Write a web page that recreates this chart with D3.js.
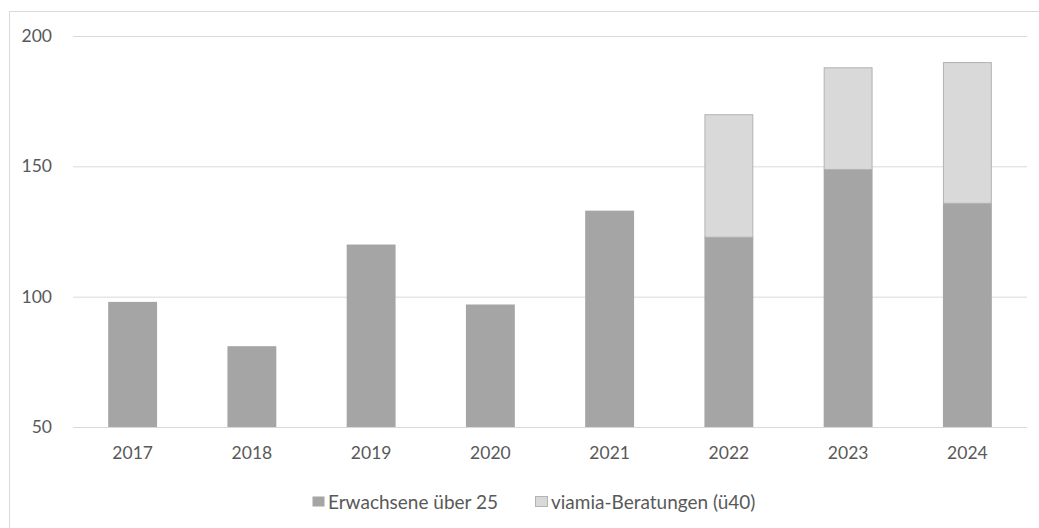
<!DOCTYPE html>
<html>
<head>
<meta charset="utf-8">
<script src="https://cdn.jsdelivr.net/npm/d3@7"></script>
<style>
  body { margin: 0; background: #fff; }
  text { font-family: Lato, "Noto Sans", sans-serif; fill: #595959; }
</style>
</head>
<body>
<div id="chart"></div>
<script>
// data
var years = ["2017", "2018", "2019", "2020", "2021", "2022", "2023", "2024"];
var adults = [98, 81, 120, 97, 133, 123, 149, 136];      // Erwachsene über 25
var viamia = [0, 0, 0, 0, 0, 47, 39, 54];                 // viamia-Beratungen (ü40)
var yTicks = [50, 100, 150, 200];
var seriesNames = ["Erwachsene über 25", "viamia-Beratungen (ü40)"];
var seriesColors = ["#a5a5a5", "#d9d9d9"];

var W = 1039, H = 528;
var svg = d3.select("#chart").append("svg")
  .attr("width", W).attr("height", H);

// outer chart frame (runs off the right/bottom of the crop)
svg.append("rect")
  .attr("x", 9.5).attr("y", 11.5)
  .attr("width", 1100).attr("height", 600)
  .attr("fill", "none").attr("stroke", "#d9d9d9");

var left = 73, right = 1027;
var x = d3.scaleBand().domain(years).range([left, right])
  .paddingInner(0.59).paddingOuter(0.295);
var y = d3.scaleLinear().domain([50, 200]).range([427, 36]);

// grid lines
var yAxis = d3.axisLeft(y).tickValues(yTicks).tickSize(-(right - left)).tickPadding(21);
var yG = svg.append("g").attr("transform", "translate(" + left + ",0)").call(yAxis);
yG.select(".domain").remove();
yG.selectAll(".tick line").attr("stroke", "#d9d9d9").attr("stroke-width", 1);
yG.selectAll(".tick text")
  .style("font-family", "Lato, sans-serif").style("font-size", "17.5px").attr("fill", "#595959");

var rows = years.map(function(d, i) { return { year: d, a: adults[i], v: viamia[i] }; });

// bottom series
svg.append("g").selectAll("rect")
  .data(rows).enter().append("rect")
  .attr("x", d => x(d.year))
  .attr("width", x.bandwidth())
  .attr("y", d => y(d.a))
  .attr("height", d => y(50) - y(d.a))
  .attr("fill", seriesColors[0]);

// stacked series
svg.append("g").selectAll("rect")
  .data(rows.filter(d => d.v > 0)).enter().append("rect")
  .attr("x", d => x(d.year) + 0.5)
  .attr("width", x.bandwidth() - 1)
  .attr("y", d => y(d.a + d.v) + 0.5)
  .attr("height", d => y(d.a) - y(d.a + d.v))
  .attr("fill", seriesColors[1])
  .attr("stroke", "#b3b3b3").attr("stroke-width", 1);

// x axis labels
var xAxis = d3.axisBottom(x).tickSize(0).tickPadding(20);
var xG = svg.append("g").attr("transform", "translate(0,427)").call(xAxis);
xG.select(".domain").remove();
xG.selectAll(".tick text")
  .style("font-family", "Lato, sans-serif").style("font-size", "17.5px").attr("fill", "#595959");

// legend
var legend = svg.append("g").attr("class", "legend");
var legendX = [312, 535];
seriesNames.forEach(function(name, i) {
  var item = legend.append("g").attr("transform", "translate(" + legendX[i] + ",496)");
  item.append("rect")
    .attr("x", 0.5).attr("y", 0.5).attr("width", 12).attr("height", 10)
    .attr("fill", seriesColors[i])
    .attr("stroke", i == 1 ? "#b3b3b3" : "none");
  item.append("text")
    .attr("x", 16).attr("y", 6)
    .attr("dy", "0.35em")
    .style("font-size", "19px")
    .text(name);
});
</script>
</body>
</html>
